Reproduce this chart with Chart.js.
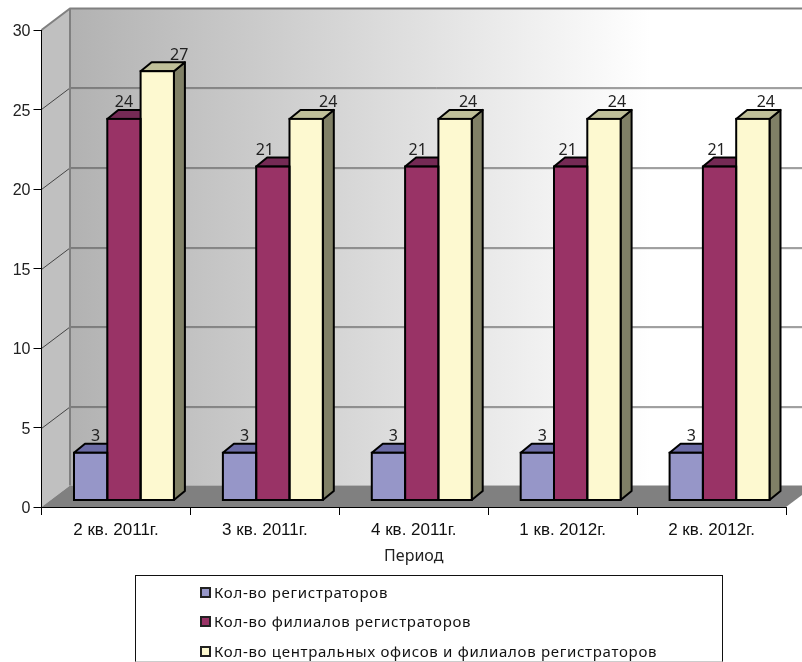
<!DOCTYPE html>
<html>
<head>
<meta charset="utf-8">
<script src="https://cdn.jsdelivr.net/npm/chart.js@4"></script>
<style>
  html, body { margin: 0; padding: 0; background: #fff; overflow: hidden; }
  #wrap { position: relative; width: 802px; height: 662px; }
  #legend {
    position: absolute; left: 135px; top: 575px; width: 586px; height: 85px;
    border: 1px solid #111; border-bottom-color: #ccc; box-sizing: content-box;
    font: 15px "Noto Sans", sans-serif; color: #111;
  }
  #legend div { position: absolute; left: 78px; white-space: nowrap; line-height: 20px; letter-spacing: 0.7px; }
  #legend i {
    position: absolute; left: -14px; top: 5px; width: 7px; height: 7px;
    border: 2px solid #222; display: block;
  }
</style>
</head>
<body>
<div id="wrap">
  <canvas id="chart" width="802" height="662"></canvas>
  <div id="legend"></div>
</div>
<script>
const periods = ['2 кв. 2011г.', '3 кв. 2011г.', '4 кв. 2011г.', '1 кв. 2012г.', '2 кв. 2012г.'];
const registrars = [3, 3, 3, 3, 3];
const branches = [24, 21, 21, 21, 21];
const offices = [27, 24, 24, 24, 24];
const yTicks = [0, 5, 10, 15, 20, 25, 30];

const seriesNames = [
  'Кол-во регистраторов',
  'Кол-во филиалов регистраторов',
  'Кол-во центральных офисов и филиалов регистраторов'
];
const frontColors = ['#9696c8', '#993366', '#fdf9d0'];
const topColors = ['#6c6ca6', '#752a55', '#bfbf99'];
const sideColors = ['#64648c', '#6b2447', '#808066'];

const WALL_DX = 28.5, WALL_DY = -21.5;   // depth of the box
const BAR_DX = 8, BAR_DY = -6.5;         // bars stand inside the box
const BAR_DEPTH_X = 11, BAR_DEPTH_Y = -9;

function poly(ctx, pts, fill, stroke, lw) {
  ctx.beginPath();
  pts.forEach((p, i) => i ? ctx.lineTo(p[0], p[1]) : ctx.moveTo(p[0], p[1]));
  ctx.closePath();
  if (fill) { ctx.fillStyle = fill; ctx.fill(); }
  if (stroke) { ctx.strokeStyle = stroke; ctx.lineWidth = lw; ctx.stroke(); }
}

// back wall, side wall and floor, then the bar sides and fake 3d outlines
const box3d = {
  id: 'box3d',
  beforeDraw(chart) {
    const { ctx, chartArea: a, scales: { y } } = chart;
    const bx = a.left + WALL_DX, by = a.top + WALL_DY;
    const bb = a.bottom + WALL_DY, br = a.right + WALL_DX;
    ctx.save();
    const grad = ctx.createLinearGradient(bx, 0, 650, 0);
    grad.addColorStop(0, '#b2b2b2');
    grad.addColorStop(1, '#ffffff');
    ctx.fillStyle = grad;
    ctx.fillRect(bx, by, br - bx, bb - by);
    poly(ctx, [[a.left, a.top], [bx, by], [bx, bb], [a.left, a.bottom]], '#c0c0c0');
    poly(ctx, [[a.left, a.bottom], [bx, bb], [br, bb], [a.right, a.bottom]], '#808080');

    ctx.lineWidth = 1;
    yTicks.forEach(v => {
      if (v === 0 || v === 30) return;
      const py = Math.round(y.getPixelForValue(v)) + 0.5;
      ctx.strokeStyle = '#444';
      ctx.beginPath();
      ctx.moveTo(a.left, py);
      ctx.lineTo(bx, py + WALL_DY);
      ctx.lineTo(br, py + WALL_DY);
      ctx.stroke();
      ctx.strokeStyle = 'rgba(150,150,150,0.35)';
      ctx.beginPath();
      ctx.moveTo(bx, py + WALL_DY + 1);
      ctx.lineTo(br, py + WALL_DY + 1);
      ctx.stroke();
    });
    ctx.strokeStyle = '#808080';
    ctx.lineWidth = 2;
    ctx.beginPath();
    ctx.moveTo(a.left, a.top);
    ctx.lineTo(bx, by);
    ctx.lineTo(br, by);
    ctx.moveTo(bx, by);
    ctx.lineTo(bx, bb);
    ctx.stroke();
    ctx.restore();
  },
  beforeDatasetsDraw(chart) {
    const { ctx } = chart;
    ctx.save();
    ctx.translate(BAR_DX, BAR_DY);
    ctx.lineJoin = 'round';
    chart.data.datasets.forEach((ds, i) => {
      chart.getDatasetMeta(i).data.forEach(bar => {
        const l = bar.x - bar.width / 2, r = bar.x + bar.width / 2;
        const t = bar.y, b = bar.base;
        const ddx = BAR_DEPTH_X, ddy = BAR_DEPTH_Y;
        poly(ctx, [[r, t], [r + ddx, t + ddy], [r + ddx, b + ddy], [r, b]], sideColors[i], '#000', 2);
        poly(ctx, [[l, t], [l + ddx, t + ddy], [r + ddx, t + ddy], [r, t]], topColors[i], '#000', 2);
      });
    });
    ctx.restore();
  },
  beforeDatasetDraw(chart) {
    chart.ctx.save();
    chart.ctx.translate(BAR_DX, BAR_DY);
  },
  afterDatasetDraw(chart) {
    chart.ctx.restore();
  },
  afterDatasetsDraw(chart) {
    const { ctx } = chart;
    ctx.save();
    ctx.translate(BAR_DX, BAR_DY);
    ctx.strokeStyle = '#000';
    ctx.lineWidth = 2;
    chart.data.datasets.forEach((ds, i) => {
      chart.getDatasetMeta(i).data.forEach(bar => {
        ctx.strokeRect(bar.x - bar.width / 2, bar.y, bar.width, bar.base - bar.y);
      });
    });
    ctx.restore();
  }
};

// value labels, they sit unevenly in the original
const labelShift = [
  [5, 5, 5, 5, 5],
  [0, -8, -4, -3, -3],
  [22, 22, 13, 13, 13]
];
const valueLabels = {
  id: 'valueLabels',
  afterDatasetsDraw(chart) {
    const { ctx } = chart;
    ctx.save();
    ctx.font = '16px "Noto Sans", sans-serif';
    ctx.fillStyle = '#222';
    ctx.textAlign = 'center';
    ctx.textBaseline = 'middle';
    chart.data.datasets.forEach((ds, i) => {
      chart.getDatasetMeta(i).data.forEach((bar, j) => {
        ctx.fillText(ds.data[j], bar.x + BAR_DX + labelShift[i][j], bar.y + BAR_DY - 16);
      });
    });
    ctx.restore();
  }
};

const ctx = document.getElementById('chart').getContext('2d');
const xFont = { family: '"Liberation Sans", Arial, sans-serif', size: 17 };
const yFont = { family: '"Liberation Sans", Arial, sans-serif', size: 16 };
const titleFont = { family: '"Noto Sans", sans-serif', size: 16 };

new Chart(ctx, {
  type: 'bar',
  data: {
    labels: periods,
    datasets: [
      { label: seriesNames[0], data: registrars, backgroundColor: frontColors[0] },
      { label: seriesNames[1], data: branches, backgroundColor: frontColors[1] },
      { label: seriesNames[2], data: offices, backgroundColor: frontColors[2] }
    ]
  },
  options: {
    responsive: false,
    animation: false,
    layout: { padding: { top: 30, right: 16, bottom: 96, left: 0 } },
    plugins: { legend: { display: false }, tooltip: { enabled: false } },
    datasets: { bar: { categoryPercentage: 0.671, barPercentage: 1, borderWidth: 0 } },
    scales: {
      x: {
        grid: { drawOnChartArea: false, color: '#000', tickLength: 8 },
        border: { color: '#000', width: 1 },
        ticks: { color: '#111', font: xFont, padding: 5, maxRotation: 0 },
        title: { display: true, text: 'Период', color: '#222', font: titleFont, padding: 0 },
        afterFit(scale) { scale.height = 59; }
      },
      y: {
        min: 0,
        max: 30,
        grid: { drawOnChartArea: false, color: '#000', tickLength: 8 },
        border: { color: '#000', width: 1 },
        ticks: { stepSize: 5, color: '#222', font: yFont, padding: 3, labelOffset: 2 },
        afterFit(scale) { scale.width = 41.5; }
      }
    }
  },
  plugins: [box3d, valueLabels]
});

// boxed legend under the chart
const legendTops = [6, 35, 65];
const legend = document.getElementById('legend');
seriesNames.forEach((name, i) => {
  const row = document.createElement('div');
  row.style.top = legendTops[i] + 'px';
  row.textContent = name;
  const swatch = document.createElement('i');
  swatch.style.background = frontColors[i];
  row.appendChild(swatch);
  legend.appendChild(row);
});
</script>
</body>
</html>
